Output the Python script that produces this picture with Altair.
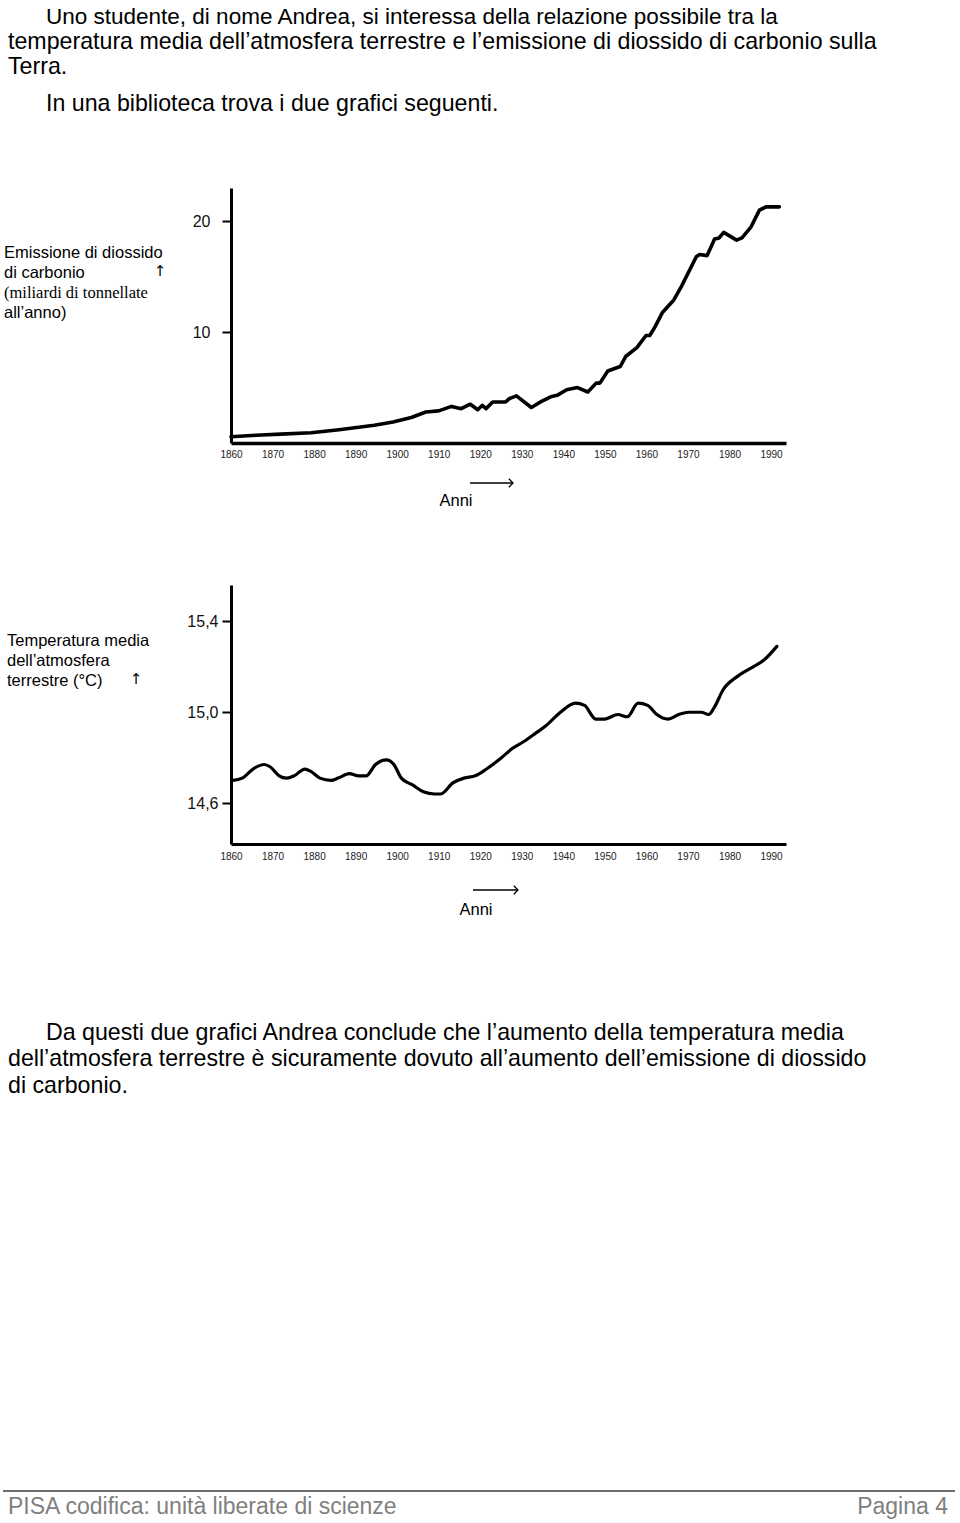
import altair as alt
import pandas as pd

# ---------------- data ----------------
co2_years = [1860, 1866, 1872, 1879.3, 1886, 1894.5, 1899, 1903.4, 1906.9, 1910, 1913.1, 1915.4,
             1917.6, 1919.4, 1920.5, 1921.4, 1923, 1926.1, 1927, 1928.7, 1932.3, 1934.5,
             1937.2, 1938.5, 1940.8, 1943.4, 1945.9, 1947.9, 1948.8, 1950.7, 1953.7, 1955,
             1957.7, 1959.9, 1960.8, 1962.1, 1963.9, 1966.6, 1968.4, 1972, 1972.8, 1974.6,
             1976.4, 1977.5, 1978.6, 1981.7, 1983, 1985.2, 1987.2, 1988.8, 1992]
co2_values = [0.57, 0.7, 0.8, 0.93, 1.2, 1.6, 1.9, 2.3, 2.8, 2.9, 3.3, 3.1,
              3.5, 3.0, 3.4, 3.1, 3.7, 3.7, 4.0, 4.25, 3.2, 3.7,
              4.2, 4.3, 4.8, 5.0, 4.6, 5.4, 5.4, 6.5, 6.9, 7.8,
              8.6, 9.7, 9.7, 10.5, 11.8, 12.9, 14.1, 16.8, 17.0, 16.9,
              18.4, 18.5, 19.0, 18.3, 18.5, 19.5, 21.0, 21.3, 21.3]

temp_years = [1860.4, 1862.7, 1865.3, 1868, 1869.4, 1871.6, 1873.4, 1875.2, 1877.8, 1879.2,
              1881.4, 1884.1, 1885.8, 1888.5, 1890.7, 1892.5, 1894.8, 1897.4, 1899.2, 1901,
              1903.7, 1906.3, 1909, 1910.4, 1913.5, 1916.1, 1918.8, 1921.5, 1925.1, 1927.7,
              1930.4, 1933.5, 1935.8, 1939.3, 1942.9, 1945.1, 1947.8, 1950, 1953.1, 1955.4,
              1958, 1960.3, 1962.5, 1965.2, 1967.8, 1970.1, 1973.2, 1975, 1976.3, 1978.5,
              1982.1, 1985.7, 1988.3, 1991.4]
temp_values = [14.70, 14.71, 14.75, 14.77, 14.76, 14.72, 14.71, 14.72, 14.75, 14.74,
               14.71, 14.70, 14.71, 14.73, 14.72, 14.72, 14.77, 14.79, 14.77, 14.71,
               14.68, 14.65, 14.64, 14.64, 14.69, 14.71, 14.72, 14.75, 14.80, 14.84,
               14.87, 14.91, 14.94, 15.00, 15.04, 15.03, 14.97, 14.97, 14.99, 14.98,
               15.04, 15.03, 14.99, 14.97, 14.99, 15.00, 15.00, 14.99, 15.02, 15.10,
               15.16, 15.20, 15.23, 15.29]

year_ticks = [1860, 1870, 1880, 1890, 1900, 1910, 1920, 1930, 1940, 1950, 1960, 1970, 1980, 1990]
co2_ticks = [10, 20]
temp_ticks = [14.6, 15.0, 15.4]

header_lines = [
    "Uno studente, di nome Andrea, si interessa della relazione possibile tra la",
    "temperatura media dell\u2019atmosfera terrestre e l\u2019emissione di diossido di carbonio sulla",
    "Terra.",
    "In una biblioteca trova i due grafici seguenti.",
]
co2_label_lines = ["Emissione di diossido", "di carbonio", "(miliardi di tonnellate", "all\u2019anno)"]
temp_label_lines = ["Temperatura media", "dell\u2019atmosfera", "terrestre (\u00b0C)"]
x_title = "Anni"
paragraph_lines = [
    "Da questi due grafici Andrea conclude che l\u2019aumento della temperatura media",
    "dell\u2019atmosfera terrestre \u00e8 sicuramente dovuto all\u2019aumento dell\u2019emissione di diossido",
    "di carbonio.",
]
footer_left = "PISA codifica: unit\u00e0 liberate di scienze"
footer_right = "Pagina 4"

# ---------------- layout ----------------
PAD_L, PAD_T = 231, 188
W, H = 555, 656
PAGE_W, PAGE_H = 960, 1523
CO2_H = 255  # height of the upper plot (relative)


def px(x):
    return x - PAD_L


def py(y):
    return y - PAD_T


SANS = "Liberation Sans"
SERIF = "Liberation Serif"

co2_df = pd.DataFrame({"anno": co2_years, "valore": co2_values})
temp_df = pd.DataFrame({"anno": temp_years, "valore": temp_values})

x_dom = [1860, 1993.6]

co2_chart = alt.Chart(co2_df).mark_line(
    color="black", strokeWidth=3.6, strokeJoin="round", strokeCap="round"
).encode(
    x=alt.X("anno:Q", scale=alt.Scale(domain=x_dom, nice=False, zero=False),
            axis=alt.Axis(orient="bottom", offset=-(H - CO2_H), values=year_ticks, format="d",
                          title=None, grid=False, ticks=False, labelFontSize=10, labelPadding=6,
                          labelFlush=False, labelOverlap=False, labelFont=SANS, labelColor="#222",
                          domainWidth=3.5, domainColor="black")),
    y=alt.Y("valore:Q", scale=alt.Scale(domain=[0, 23], range=[CO2_H, 0], nice=False, zero=False),
            axis=alt.Axis(orient="left", values=co2_ticks, title=None, grid=False, tickSize=9,
                          tickWidth=2, tickColor="black", labelPadding=12, labelFontSize=16,
                          labelFont=SANS, labelColor="#111", labelFlush=False,
                          domainWidth=3, domainColor="black")),
)

temp_chart = alt.Chart(temp_df).mark_line(
    color="black", strokeWidth=3.2, strokeJoin="round", strokeCap="round", interpolate="monotone"
).encode(
    x=alt.X("anno:Q", scale=alt.Scale(domain=x_dom, nice=False, zero=False),
            axis=alt.Axis(orient="bottom", values=year_ticks, format="d",
                          title=None, grid=False, ticks=False, labelFontSize=10, labelPadding=7,
                          labelFlush=False, labelOverlap=False, labelFont=SANS, labelColor="#222",
                          domainWidth=3, domainColor="black")),
    y=alt.Y("valore:Q", scale=alt.Scale(domain=[14.42, 15.56], range=[H, 397], nice=False, zero=False),
            axis=alt.Axis(orient="left", values=temp_ticks, title=None, grid=False, tickSize=9,
                          tickWidth=2, tickColor="black", labelPadding=4, labelFontSize=16,
                          labelFont=SANS, labelColor="#111", labelFlush=False,
                          labelExpr="replace(format(datum.value, '.1f'), '.', ',')",
                          domainWidth=3, domainColor="black")),
)

one = pd.DataFrame({"k": [0]})


def txt(s, x, y, size=23.2, font=SANS, color="black", align="left"):
    return alt.Chart(pd.DataFrame({"t": [s]})).mark_text(
        align=align, baseline="middle", fontSize=size, font=font, color=color
    ).encode(x=alt.value(px(x)), y=alt.value(py(y)), text="t:N")


def arrow(x1, x2, y):
    shaft = alt.Chart(one).mark_rule(color="black", strokeWidth=1.3).encode(
        x=alt.value(px(x1)), x2=alt.value(px(x2)), y=alt.value(py(y)))
    head = alt.Chart(one).mark_point(
        shape="M -1 -1 L 0 0 L -1 1", filled=False, stroke="black", strokeWidth=1.3,
        size=70, opacity=1
    ).encode(x=alt.value(px(x2)), y=alt.value(py(y)))
    return [shaft, head]


layers = [co2_chart, temp_chart]

# header
hx = [46, 8, 8, 46]
hy = [17, 42, 67, 104]
hs = [22.5, 23.2, 23.2, 23.2]
for s, x, y, fs in zip(header_lines, hx, hy, hs):
    layers.append(txt(s, x, y, size=fs))

# upper chart labels
for i, s in enumerate(co2_label_lines):
    layers.append(txt(s, 4, 253 + 20 * i, size=16.5, font=SERIF if i == 2 else SANS))
layers.append(txt("\u2191", 160, 271, size=15, font="DejaVu Sans", align="center"))
layers += arrow(470, 513, 483)
layers.append(txt(x_title, 456, 501, size=16.5, align="center"))

# lower chart labels
for i, s in enumerate(temp_label_lines):
    layers.append(txt(s, 7, 641 + 20 * i, size=16.5))
layers.append(txt("\u2191", 136, 679, size=15, font="DejaVu Sans", align="center"))
layers += arrow(473, 518, 890)
layers.append(txt(x_title, 476, 910, size=16.5, align="center"))

# paragraph
px_ = [46, 8, 8]
py_ = [1033, 1059, 1086]
for s, x, y in zip(paragraph_lines, px_, py_):
    layers.append(txt(s, x, y))

# footer
layers.append(alt.Chart(one).mark_rule(color="#6e6e6e", strokeWidth=2).encode(
    x=alt.value(px(3)), x2=alt.value(px(955)), y=alt.value(py(1491))))
layers.append(txt(footer_left, 8, 1507, size=23, color="#7f7f7f"))
layers.append(txt(footer_right, 948, 1507, size=23, color="#7f7f7f", align="right"))

chart = alt.layer(*layers).resolve_scale(x="independent", y="independent").properties(
    width=W, height=H,
    padding={"left": PAD_L, "top": PAD_T, "right": PAGE_W - PAD_L - W, "bottom": PAGE_H - PAD_T - H},
    autosize=alt.AutoSizeParams(type="none"),
    background="white",
).configure_view(stroke=None)

chart.save("out.html", embed_options={"renderer": "svg", "actions": False})
